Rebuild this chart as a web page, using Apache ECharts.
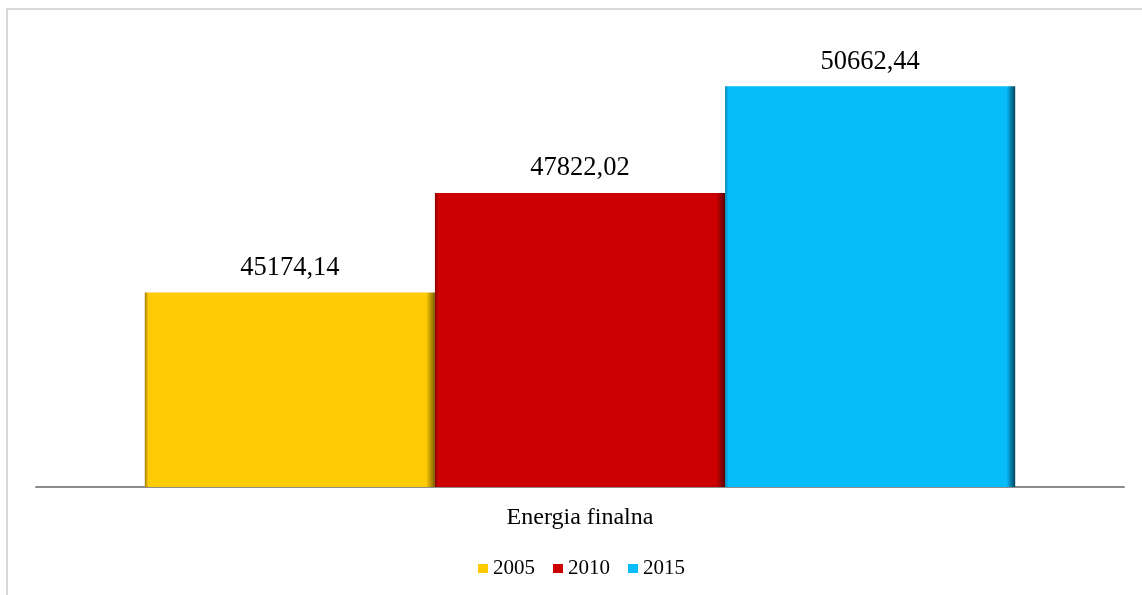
<!DOCTYPE html>
<html>
<head>
<meta charset="utf-8">
<script src="https://cdn.jsdelivr.net/npm/echarts@6/dist/echarts.min.js"></script>
<style>
  html, body { margin: 0; padding: 0; background: #fff; }
  #chart { width: 1142px; height: 595px; }
</style>
</head>
<body>
<div id="chart"></div>
<script>
// dane
var categories = ['Energia finalna']
var years = ['2005', '2010', '2015']
var values2005 = [45174.14]
var values2010 = [47822.02]
var values2015 = [50662.44]
var yMin = 40000
var yMax = 52000

var colors = {
  '2005': ['#a07c00', '#ffcb05', '#7a5e00'],
  '2010': ['#8a0000', '#cc0000', '#5a0000'],
  '2015': ['#0588b5', '#06bcfb', '#02445c']
}

var myChart = echarts.init(document.getElementById('chart'))

function fmt (v) {
  return v.toFixed(2).replace('.', ',')
}

// bar z efektem "bevel" - ciemniejsze krawedzie
function barSeries (name, data) {
  var c = colors[name]
  return {
    name: name,
    type: 'bar',
    barGap: 0,
    barCategoryGap: '20%',
    data: data,
    itemStyle: {
      color: new echarts.graphic.LinearGradient(0, 0, 1, 0, [
        { offset: 0, color: c[0] },
        { offset: 0.012, color: c[1] },
        { offset: 0.97, color: c[1] },
        { offset: 1, color: c[2] }
      ])
    },
    label: {
      show: true,
      position: 'top',
      distance: 11,
      fontFamily: 'Liberation Serif',
      fontSize: 26.5,
      color: '#000',
      formatter: function (p) { return fmt(p.value) }
    }
  }
}

var option = {
  animation: false,
  grid: {
    top: 36,
    left: 36,
    right: 18,
    bottom: 108
  },
  graphic: [{
    type: 'rect',
    shape: { x: 7, y: 9, width: 1300, height: 800 },
    style: { fill: 'none', stroke: '#d9d9d9', lineWidth: 2 },
    silent: true,
    z: -1
  }],
  legend: {
    data: years,
    bottom: 11,
    left: 473,
    itemWidth: 10,
    itemHeight: 9,
    itemGap: 18,
    icon: 'rect',
    textStyle: {
      fontFamily: 'Liberation Serif',
      fontSize: 21,
      color: '#000'
    }
  },
  xAxis: {
    type: 'category',
    data: categories,
    axisLine: { lineStyle: { color: '#8c8c8c', width: 2 } },
    axisTick: { show: false },
    axisLabel: {
      margin: 19,
      fontFamily: 'Liberation Serif',
      fontSize: 24,
      color: '#000'
    }
  },
  yAxis: {
    type: 'value',
    min: yMin,
    max: yMax,
    show: false,
    splitLine: { show: false }
  },
  series: [
    barSeries('2005', values2005),
    barSeries('2010', values2010),
    barSeries('2015', values2015)
  ]
}

myChart.setOption(option)
</script>
</body>
</html>
